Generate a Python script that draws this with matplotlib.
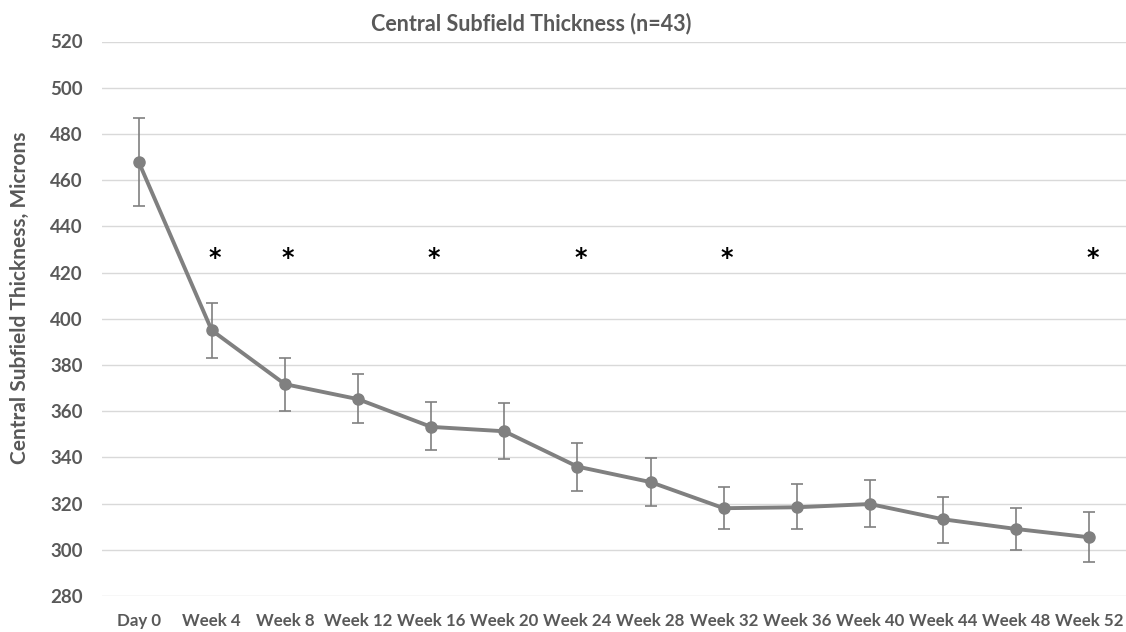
import matplotlib
matplotlib.use("Agg")
import matplotlib.pyplot as plt

categories = ["Day 0", "Week 4", "Week 8", "Week 12", "Week 16", "Week 20", "Week 24",
              "Week 28", "Week 32", "Week 36", "Week 40", "Week 44", "Week 48", "Week 52"]
thickness = [468, 395, 371.7, 365.2, 353.2, 351.3, 336, 329.3, 318, 318.4, 319.8, 313.2, 309, 305.4]
err_upper = [19, 11.7, 11.3, 11.0, 10.7, 12.2, 10.3, 10.5, 9.3, 9.9, 10.2, 9.8, 9.2, 10.8]
err_lower = [19, 12.2, 11.7, 10.4, 10.2, 11.8, 10.4, 10.3, 9.2, 9.2, 9.8, 10.2, 8.9, 10.8]
significant = ["Week 4", "Week 8", "Week 16", "Week 24", "Week 32", "Week 52"]
star_level = 426.5
yticks = list(range(280, 521, 20))

plt.rcParams['font.family'] = ['Lato', 'DejaVu Sans']
text_color = "#595959"
line_color = "#808080"

fig = plt.figure(figsize=(11.26, 6.32), dpi=100)
ax = fig.add_axes([102 / 1126, 1 - 596 / 632, 1 - 102 / 1126, (596 - 41.5) / 632])

x = list(range(len(categories)))
ax.errorbar(x, thickness, yerr=[err_lower, err_upper], fmt='none', ecolor=line_color,
            elinewidth=1.2, capsize=4, capthick=1.2, zorder=2)
ax.plot(x, thickness, color=line_color, linewidth=2.8, marker='o', markersize=8,
        markerfacecolor=line_color, markeredgecolor=line_color, zorder=3)

for cat in significant:
    i = categories.index(cat)
    ax.text(i + 0.04, star_level, "*", ha='center', va='center', fontsize=17,
            fontweight='bold', color='black', family=['DejaVu Sans'])

ax.set_xlim(-0.5, 13.5)
ax.set_ylim(280, 520)
ax.set_yticks(yticks)
ax.set_xticks(x)
ax.set_xticklabels(categories)
ax.grid(axis='y', color='#d9d9d9', linewidth=1.0)
ax.set_axisbelow(True)
for s in ax.spines.values():
    s.set_visible(False)
ax.tick_params(axis='both', length=0, labelcolor=text_color)
ax.tick_params(axis='y', pad=14, labelsize=13.5)
ax.tick_params(axis='x', pad=12, labelsize=12.2)
for lab in ax.get_xticklabels() + ax.get_yticklabels():
    lab.set_fontweight('bold')

fig.text(20 / 1126, 1 - 298 / 632, "Central Subfield Thickness, Microns", rotation=90,
         ha='center', va='center', fontsize=15, fontweight='bold', color=text_color)
fig.text(531 / 1126, 1 - 24 / 632, "Central Subfield Thickness (n=43)", ha='center',
         va='center', fontsize=15.5, fontweight='bold', color=text_color)

fig.savefig("out.png", dpi=100, facecolor='white')
